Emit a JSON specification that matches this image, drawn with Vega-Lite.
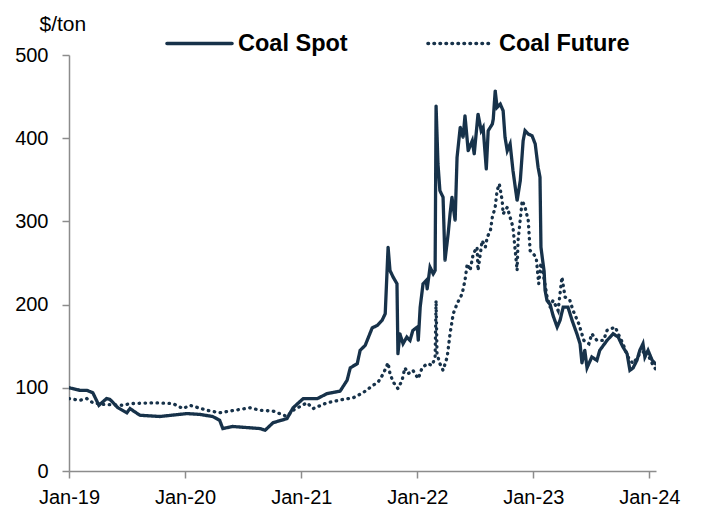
{
  "$schema": "https://vega.github.io/schema/vega-lite/v6.json",
  "width": 587,
  "height": 416,
  "autosize": {"type": "none"},
  "padding": {"left": 69, "top": 55, "right": 59, "bottom": 47},
  "background": "white",
  "config": {"view": {"stroke": null}, "font": "Liberation Sans"},
  "data": {"values": [
    {"date": "2019-01-01", "series": "Coal Spot", "value": 100},
    {"date": "2019-02-04", "series": "Coal Spot", "value": 97},
    {"date": "2019-02-26", "series": "Coal Spot", "value": 97},
    {"date": "2019-03-17", "series": "Coal Spot", "value": 94},
    {"date": "2019-04-05", "series": "Coal Spot", "value": 79},
    {"date": "2019-04-29", "series": "Coal Spot", "value": 87},
    {"date": "2019-05-10", "series": "Coal Spot", "value": 86},
    {"date": "2019-06-04", "series": "Coal Spot", "value": 76},
    {"date": "2019-07-02", "series": "Coal Spot", "value": 70},
    {"date": "2019-07-12", "series": "Coal Spot", "value": 75},
    {"date": "2019-08-12", "series": "Coal Spot", "value": 67},
    {"date": "2019-10-14", "series": "Coal Spot", "value": 65.5},
    {"date": "2020-01-07", "series": "Coal Spot", "value": 69},
    {"date": "2020-02-17", "series": "Coal Spot", "value": 68},
    {"date": "2020-03-28", "series": "Coal Spot", "value": 65.5},
    {"date": "2020-04-19", "series": "Coal Spot", "value": 61},
    {"date": "2020-04-29", "series": "Coal Spot", "value": 51},
    {"date": "2020-05-30", "series": "Coal Spot", "value": 53.5},
    {"date": "2020-08-24", "series": "Coal Spot", "value": 51},
    {"date": "2020-09-09", "series": "Coal Spot", "value": 49},
    {"date": "2020-10-04", "series": "Coal Spot", "value": 58},
    {"date": "2020-11-17", "series": "Coal Spot", "value": 63},
    {"date": "2020-12-06", "series": "Coal Spot", "value": 76},
    {"date": "2021-01-07", "series": "Coal Spot", "value": 87},
    {"date": "2021-02-20", "series": "Coal Spot", "value": 87},
    {"date": "2021-03-23", "series": "Coal Spot", "value": 93},
    {"date": "2021-05-03", "series": "Coal Spot", "value": 96},
    {"date": "2021-05-25", "series": "Coal Spot", "value": 109},
    {"date": "2021-06-04", "series": "Coal Spot", "value": 124},
    {"date": "2021-06-26", "series": "Coal Spot", "value": 129},
    {"date": "2021-07-05", "series": "Coal Spot", "value": 145},
    {"date": "2021-07-21", "series": "Coal Spot", "value": 151},
    {"date": "2021-08-12", "series": "Coal Spot", "value": 172},
    {"date": "2021-08-28", "series": "Coal Spot", "value": 175},
    {"date": "2021-09-12", "series": "Coal Spot", "value": 181},
    {"date": "2021-09-22", "series": "Coal Spot", "value": 189},
    {"date": "2021-10-01", "series": "Coal Spot", "value": 269},
    {"date": "2021-10-07", "series": "Coal Spot", "value": 241},
    {"date": "2021-10-17", "series": "Coal Spot", "value": 233},
    {"date": "2021-10-29", "series": "Coal Spot", "value": 225},
    {"date": "2021-11-01", "series": "Coal Spot", "value": 141},
    {"date": "2021-11-07", "series": "Coal Spot", "value": 165},
    {"date": "2021-11-17", "series": "Coal Spot", "value": 153},
    {"date": "2021-11-29", "series": "Coal Spot", "value": 161},
    {"date": "2021-12-09", "series": "Coal Spot", "value": 157},
    {"date": "2021-12-18", "series": "Coal Spot", "value": 169},
    {"date": "2022-01-01", "series": "Coal Spot", "value": 173},
    {"date": "2022-01-04", "series": "Coal Spot", "value": 157},
    {"date": "2022-01-10", "series": "Coal Spot", "value": 197},
    {"date": "2022-01-19", "series": "Coal Spot", "value": 225},
    {"date": "2022-01-29", "series": "Coal Spot", "value": 229},
    {"date": "2022-02-01", "series": "Coal Spot", "value": 219},
    {"date": "2022-02-10", "series": "Coal Spot", "value": 245},
    {"date": "2022-02-20", "series": "Coal Spot", "value": 237},
    {"date": "2022-02-26", "series": "Coal Spot", "value": 241},
    {"date": "2022-03-01", "series": "Coal Spot", "value": 439},
    {"date": "2022-03-07", "series": "Coal Spot", "value": 369},
    {"date": "2022-03-13", "series": "Coal Spot", "value": 337},
    {"date": "2022-03-23", "series": "Coal Spot", "value": 329},
    {"date": "2022-03-29", "series": "Coal Spot", "value": 253},
    {"date": "2022-04-08", "series": "Coal Spot", "value": 285},
    {"date": "2022-04-14", "series": "Coal Spot", "value": 309},
    {"date": "2022-04-20", "series": "Coal Spot", "value": 329},
    {"date": "2022-04-30", "series": "Coal Spot", "value": 301},
    {"date": "2022-05-06", "series": "Coal Spot", "value": 377},
    {"date": "2022-05-16", "series": "Coal Spot", "value": 413},
    {"date": "2022-05-25", "series": "Coal Spot", "value": 401},
    {"date": "2022-05-31", "series": "Coal Spot", "value": 427},
    {"date": "2022-06-10", "series": "Coal Spot", "value": 385},
    {"date": "2022-06-23", "series": "Coal Spot", "value": 397},
    {"date": "2022-06-29", "series": "Coal Spot", "value": 381},
    {"date": "2022-07-11", "series": "Coal Spot", "value": 429},
    {"date": "2022-07-21", "series": "Coal Spot", "value": 409},
    {"date": "2022-07-27", "series": "Coal Spot", "value": 413},
    {"date": "2022-08-06", "series": "Coal Spot", "value": 363},
    {"date": "2022-08-12", "series": "Coal Spot", "value": 409},
    {"date": "2022-08-25", "series": "Coal Spot", "value": 417},
    {"date": "2022-08-28", "series": "Coal Spot", "value": 423},
    {"date": "2022-09-03", "series": "Coal Spot", "value": 457},
    {"date": "2022-09-09", "series": "Coal Spot", "value": 437},
    {"date": "2022-09-19", "series": "Coal Spot", "value": 441},
    {"date": "2022-09-28", "series": "Coal Spot", "value": 433},
    {"date": "2022-10-04", "series": "Coal Spot", "value": 401},
    {"date": "2022-10-11", "series": "Coal Spot", "value": 385},
    {"date": "2022-10-20", "series": "Coal Spot", "value": 393},
    {"date": "2022-10-29", "series": "Coal Spot", "value": 361},
    {"date": "2022-11-11", "series": "Coal Spot", "value": 325},
    {"date": "2022-11-21", "series": "Coal Spot", "value": 349},
    {"date": "2022-11-30", "series": "Coal Spot", "value": 397},
    {"date": "2022-12-06", "series": "Coal Spot", "value": 409},
    {"date": "2022-12-16", "series": "Coal Spot", "value": 405},
    {"date": "2022-12-28", "series": "Coal Spot", "value": 403},
    {"date": "2023-01-07", "series": "Coal Spot", "value": 393},
    {"date": "2023-01-16", "series": "Coal Spot", "value": 365},
    {"date": "2023-01-22", "series": "Coal Spot", "value": 353},
    {"date": "2023-01-25", "series": "Coal Spot", "value": 269},
    {"date": "2023-01-29", "series": "Coal Spot", "value": 257},
    {"date": "2023-02-04", "series": "Coal Spot", "value": 240},
    {"date": "2023-02-07", "series": "Coal Spot", "value": 217},
    {"date": "2023-02-13", "series": "Coal Spot", "value": 205},
    {"date": "2023-02-23", "series": "Coal Spot", "value": 200},
    {"date": "2023-03-04", "series": "Coal Spot", "value": 187},
    {"date": "2023-03-17", "series": "Coal Spot", "value": 173},
    {"date": "2023-03-26", "series": "Coal Spot", "value": 181},
    {"date": "2023-04-05", "series": "Coal Spot", "value": 197},
    {"date": "2023-04-20", "series": "Coal Spot", "value": 197},
    {"date": "2023-05-03", "series": "Coal Spot", "value": 181},
    {"date": "2023-05-18", "series": "Coal Spot", "value": 165},
    {"date": "2023-05-28", "series": "Coal Spot", "value": 153},
    {"date": "2023-06-03", "series": "Coal Spot", "value": 130},
    {"date": "2023-06-12", "series": "Coal Spot", "value": 145},
    {"date": "2023-06-19", "series": "Coal Spot", "value": 124},
    {"date": "2023-07-04", "series": "Coal Spot", "value": 137},
    {"date": "2023-07-20", "series": "Coal Spot", "value": 133},
    {"date": "2023-07-29", "series": "Coal Spot", "value": 145},
    {"date": "2023-08-21", "series": "Coal Spot", "value": 157},
    {"date": "2023-09-09", "series": "Coal Spot", "value": 165},
    {"date": "2023-09-25", "series": "Coal Spot", "value": 161},
    {"date": "2023-10-10", "series": "Coal Spot", "value": 149},
    {"date": "2023-10-23", "series": "Coal Spot", "value": 141},
    {"date": "2023-11-01", "series": "Coal Spot", "value": 121},
    {"date": "2023-11-11", "series": "Coal Spot", "value": 124},
    {"date": "2023-11-23", "series": "Coal Spot", "value": 133},
    {"date": "2023-12-02", "series": "Coal Spot", "value": 145},
    {"date": "2023-12-12", "series": "Coal Spot", "value": 153},
    {"date": "2023-12-18", "series": "Coal Spot", "value": 137},
    {"date": "2023-12-28", "series": "Coal Spot", "value": 145},
    {"date": "2024-01-10", "series": "Coal Spot", "value": 133},
    {"date": "2024-01-20", "series": "Coal Spot", "value": 129},

    {"date": "2019-01-01", "series": "Coal Future", "value": 87},
    {"date": "2019-02-04", "series": "Coal Future", "value": 85},
    {"date": "2019-02-26", "series": "Coal Future", "value": 87},
    {"date": "2019-03-17", "series": "Coal Future", "value": 82},
    {"date": "2019-04-20", "series": "Coal Future", "value": 80},
    {"date": "2019-06-19", "series": "Coal Future", "value": 79},
    {"date": "2019-07-12", "series": "Coal Future", "value": 81},
    {"date": "2019-09-22", "series": "Coal Future", "value": 82},
    {"date": "2019-11-24", "series": "Coal Future", "value": 81},
    {"date": "2019-12-26", "series": "Coal Future", "value": 75},
    {"date": "2020-01-16", "series": "Coal Future", "value": 79},
    {"date": "2020-03-10", "series": "Coal Future", "value": 73},
    {"date": "2020-04-19", "series": "Coal Future", "value": 70},
    {"date": "2020-07-24", "series": "Coal Future", "value": 76},
    {"date": "2020-08-24", "series": "Coal Future", "value": 73},
    {"date": "2020-10-04", "series": "Coal Future", "value": 72},
    {"date": "2020-11-17", "series": "Coal Future", "value": 65.5},
    {"date": "2020-12-06", "series": "Coal Future", "value": 73},
    {"date": "2021-01-19", "series": "Coal Future", "value": 82},
    {"date": "2021-02-07", "series": "Coal Future", "value": 75},
    {"date": "2021-03-23", "series": "Coal Future", "value": 82},
    {"date": "2021-05-12", "series": "Coal Future", "value": 86},
    {"date": "2021-06-13", "series": "Coal Future", "value": 88},
    {"date": "2021-07-14", "series": "Coal Future", "value": 94},
    {"date": "2021-08-15", "series": "Coal Future", "value": 103},
    {"date": "2021-08-31", "series": "Coal Future", "value": 107},
    {"date": "2021-09-16", "series": "Coal Future", "value": 117},
    {"date": "2021-10-01", "series": "Coal Future", "value": 130},
    {"date": "2021-10-07", "series": "Coal Future", "value": 117},
    {"date": "2021-10-17", "series": "Coal Future", "value": 107},
    {"date": "2021-11-01", "series": "Coal Future", "value": 99},
    {"date": "2021-11-14", "series": "Coal Future", "value": 109},
    {"date": "2021-11-23", "series": "Coal Future", "value": 124},
    {"date": "2021-12-03", "series": "Coal Future", "value": 117},
    {"date": "2021-12-18", "series": "Coal Future", "value": 121},
    {"date": "2022-01-04", "series": "Coal Future", "value": 111},
    {"date": "2022-01-16", "series": "Coal Future", "value": 124},
    {"date": "2022-02-01", "series": "Coal Future", "value": 129},
    {"date": "2022-02-17", "series": "Coal Future", "value": 127},
    {"date": "2022-02-26", "series": "Coal Future", "value": 137},
    {"date": "2022-03-01", "series": "Coal Future", "value": 205},
    {"date": "2022-03-04", "series": "Coal Future", "value": 141},
    {"date": "2022-03-13", "series": "Coal Future", "value": 129},
    {"date": "2022-03-23", "series": "Coal Future", "value": 121},
    {"date": "2022-04-05", "series": "Coal Future", "value": 137},
    {"date": "2022-04-14", "series": "Coal Future", "value": 165},
    {"date": "2022-04-24", "series": "Coal Future", "value": 189},
    {"date": "2022-05-06", "series": "Coal Future", "value": 201},
    {"date": "2022-05-22", "series": "Coal Future", "value": 213},
    {"date": "2022-05-31", "series": "Coal Future", "value": 229},
    {"date": "2022-06-07", "series": "Coal Future", "value": 249},
    {"date": "2022-06-16", "series": "Coal Future", "value": 241},
    {"date": "2022-06-26", "series": "Coal Future", "value": 261},
    {"date": "2022-07-08", "series": "Coal Future", "value": 269},
    {"date": "2022-07-11", "series": "Coal Future", "value": 241},
    {"date": "2022-07-24", "series": "Coal Future", "value": 277},
    {"date": "2022-08-03", "series": "Coal Future", "value": 269},
    {"date": "2022-08-09", "series": "Coal Future", "value": 281},
    {"date": "2022-08-19", "series": "Coal Future", "value": 289},
    {"date": "2022-08-25", "series": "Coal Future", "value": 305},
    {"date": "2022-09-03", "series": "Coal Future", "value": 317},
    {"date": "2022-09-09", "series": "Coal Future", "value": 337},
    {"date": "2022-09-16", "series": "Coal Future", "value": 345},
    {"date": "2022-09-25", "series": "Coal Future", "value": 325},
    {"date": "2022-09-28", "series": "Coal Future", "value": 309},
    {"date": "2022-10-11", "series": "Coal Future", "value": 317},
    {"date": "2022-10-20", "series": "Coal Future", "value": 305},
    {"date": "2022-10-29", "series": "Coal Future", "value": 293},
    {"date": "2022-11-11", "series": "Coal Future", "value": 241},
    {"date": "2022-11-14", "series": "Coal Future", "value": 277},
    {"date": "2022-11-27", "series": "Coal Future", "value": 325},
    {"date": "2022-12-06", "series": "Coal Future", "value": 317},
    {"date": "2022-12-16", "series": "Coal Future", "value": 301},
    {"date": "2022-12-22", "series": "Coal Future", "value": 265},
    {"date": "2023-01-10", "series": "Coal Future", "value": 257},
    {"date": "2023-01-18", "series": "Coal Future", "value": 225},
    {"date": "2023-01-25", "series": "Coal Future", "value": 250},
    {"date": "2023-02-02", "series": "Coal Future", "value": 235},
    {"date": "2023-02-13", "series": "Coal Future", "value": 210},
    {"date": "2023-02-23", "series": "Coal Future", "value": 197},
    {"date": "2023-03-04", "series": "Coal Future", "value": 205},
    {"date": "2023-03-20", "series": "Coal Future", "value": 193},
    {"date": "2023-04-01", "series": "Coal Future", "value": 233},
    {"date": "2023-04-11", "series": "Coal Future", "value": 209},
    {"date": "2023-04-26", "series": "Coal Future", "value": 205},
    {"date": "2023-05-06", "series": "Coal Future", "value": 193},
    {"date": "2023-05-24", "series": "Coal Future", "value": 177},
    {"date": "2023-06-09", "series": "Coal Future", "value": 157},
    {"date": "2023-06-25", "series": "Coal Future", "value": 153},
    {"date": "2023-07-04", "series": "Coal Future", "value": 165},
    {"date": "2023-07-20", "series": "Coal Future", "value": 157},
    {"date": "2023-08-10", "series": "Coal Future", "value": 157},
    {"date": "2023-08-21", "series": "Coal Future", "value": 169},
    {"date": "2023-09-16", "series": "Coal Future", "value": 173},
    {"date": "2023-09-25", "series": "Coal Future", "value": 165},
    {"date": "2023-10-10", "series": "Coal Future", "value": 153},
    {"date": "2023-10-26", "series": "Coal Future", "value": 137},
    {"date": "2023-11-11", "series": "Coal Future", "value": 129},
    {"date": "2023-12-02", "series": "Coal Future", "value": 141},
    {"date": "2023-12-25", "series": "Coal Future", "value": 145},
    {"date": "2024-01-04", "series": "Coal Future", "value": 133},
    {"date": "2024-01-20", "series": "Coal Future", "value": 123}
  ]},
  "mark": {"type": "line", "strokeWidth": 3.3, "strokeCap": "round", "clip": true},
  "encoding": {
    "x": {
      "field": "date", "type": "temporal",
      "scale": {"domain": ["2019-01-01", "2024-01-22"], "nice": false},
      "axis": {
        "title": null, "format": "%b-%y", "tickCount": {"interval": "year", "step": 1},
        "grid": false, "labelFontSize": 20, "labelColor": "#000000", "labelPadding": 9,
        "labelFlush": false, "labelOverlap": false,
        "tickSize": 7, "tickColor": "#8c8c8c", "tickWidth": 1.5,
        "domainColor": "#8c8c8c", "domainWidth": 1.5
      }
    },
    "y": {
      "field": "value", "type": "quantitative",
      "scale": {"domain": [0, 500], "nice": false},
      "axis": {
        "values": [0, 100, 200, 300, 400, 500],
        "grid": false, "labelFontSize": 20, "labelColor": "#000000", "labelPadding": 14,
        "tickSize": 7, "tickColor": "#8c8c8c", "tickWidth": 1.5,
        "domainColor": "#8c8c8c", "domainWidth": 1.5,
        "title": "$/ton", "titleAngle": 0, "titleAlign": "left", "titleBaseline": "middle",
        "titleX": -30, "titleY": -31, "titleFontSize": 21, "titleFontWeight": "normal", "titleColor": "#000000"
      }
    },
    "color": {
      "field": "series", "type": "nominal",
      "scale": {"domain": ["Coal Spot", "Coal Future"], "range": ["#17324a", "#17324a"]},
      "legend": {
        "title": null, "orient": "none", "direction": "horizontal",
        "legendX": 96, "legendY": -46,
        "symbolType": "stroke", "symbolSize": 4225, "symbolStrokeWidth": 3.6,
        "labelFontSize": 23.5, "labelFontWeight": "bold", "labelColor": "#000000",
        "labelOffset": 4, "columnPadding": 72,
        "encode": {"symbols": {"update": {"strokeCap": {"value": "round"}}}}
      }
    },
    "strokeDash": {
      "field": "series", "type": "nominal",
      "scale": {"domain": ["Coal Spot", "Coal Future"], "range": [[1, 0], [0.5, 5.5]]},
      "legend": {
        "title": null, "orient": "none", "direction": "horizontal",
        "legendX": 96, "legendY": -46,
        "symbolType": "stroke", "symbolSize": 4225, "symbolStrokeWidth": 3.6,
        "labelFontSize": 23.5, "labelFontWeight": "bold", "labelColor": "#000000",
        "labelOffset": 4, "columnPadding": 72,
        "encode": {"symbols": {"update": {"strokeCap": {"value": "round"}}}}
      }
    }
  }
}
